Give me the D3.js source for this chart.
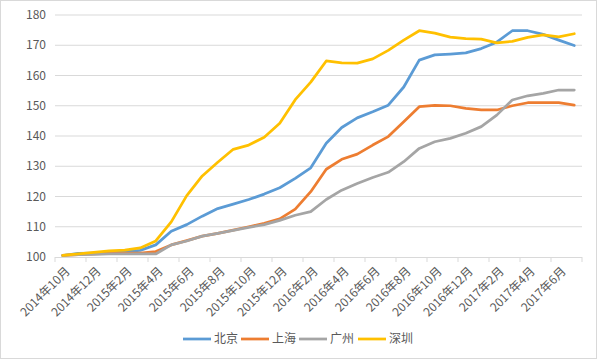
<!DOCTYPE html>
<html><head><meta charset="utf-8">
<script src="https://cdn.jsdelivr.net/npm/d3@7/dist/d3.min.js"></script>
<style>
body{margin:0;background:#fff;}
svg{display:block;font-family:"Noto Sans CJK SC","Noto Sans",sans-serif;}
</style></head><body>
<svg id="c" width="597" height="360"></svg>
<script>
// months 2014-10 .. 2017-07
const months = [];
for (let y = 2014, m = 10; !(y === 2017 && m === 8); ) {
  months.push(y + "年" + m + "月");
  m++; if (m > 12) { m = 1; y++; }
}
const yTicks = [100,110,120,130,140,150,160,170,180];
const seriesNames = ["北京","上海","广州","深圳"];
const colors = ["#5B9BD5","#ED7D31","#A5A5A5","#FFC000"];
const beijing  = [100.5,101.2,101.3,101.5,101.8,102.2,104.0,108.5,110.7,113.5,116.0,117.5,119.0,120.8,122.9,126.0,129.5,137.6,142.8,146.0,148.0,150.2,156.2,165.1,166.8,167.1,167.5,168.9,171.0,174.8,174.8,173.6,171.7,169.9];
const shanghai = [100.5,100.8,101.0,101.2,101.3,101.3,101.8,104.0,105.4,106.9,107.8,108.9,110.0,111.1,112.6,115.8,121.6,129.0,132.3,134.0,137.0,139.8,144.7,149.7,150.1,150.0,149.1,148.6,148.6,150.0,151.0,151.0,151.0,150.2];
const guangzhou= [100.5,100.8,100.9,101.0,101.0,101.0,101.0,104.0,105.3,106.9,107.8,108.8,109.8,110.7,112.1,113.8,115.0,119.0,122.1,124.3,126.3,128.0,131.5,135.9,138.1,139.2,140.9,143.1,146.9,151.9,153.3,154.1,155.2,155.2];
const shenzhen = [100.5,101.0,101.5,102.0,102.3,103.0,105.3,111.6,120.3,126.8,131.3,135.6,137.0,139.6,144.2,152.0,157.8,164.8,164.2,164.1,165.5,168.3,171.7,174.8,174.0,172.7,172.2,172.0,170.8,171.3,172.6,173.4,172.8,173.8];
const seriesData = [beijing, shanghai, guangzhou, shenzhen];

const svg = d3.select("#c");
svg.append("rect").attr("x",0.5).attr("y",0.5).attr("width",596).attr("height",358)
  .attr("fill","#fff").attr("stroke","#d9d9d9");

const L = 55, R = 582, T = 15, B = 257;
const x = d3.scaleBand().domain(months).range([L, R]);
const y = d3.scaleLinear().domain([100,180]).range([B, T]);
const cx = d => x(d) + x.bandwidth()/2;

// gridlines
svg.append("g").selectAll("line").data(yTicks.filter(v => v > 100)).join("line")
  .attr("x1",L).attr("x2",R).attr("y1",d=>y(d)).attr("y2",d=>y(d))
  .attr("stroke","#d9d9d9").attr("stroke-width",1);

// y labels
svg.append("g").selectAll("text").data(yTicks).join("text")
  .attr("x",46).attr("y",d=>y(d)).attr("dy","0.35em").attr("text-anchor","end")
  .attr("font-size",12).attr("fill","#595959").text(d=>d);

// x axis line and ticks
svg.append("line").attr("x1",L).attr("x2",R).attr("y1",B+0.5).attr("y2",B+0.5)
  .attr("stroke","#d9d9d9");
const tickIdx = d3.range(0, months.length + 1, 2);
svg.append("g").selectAll("line").data(tickIdx).join("line")
  .attr("x1",i => L + i*x.step()).attr("x2",i => L + i*x.step())
  .attr("y1",B).attr("y2",B+5).attr("stroke","#d9d9d9");

// x labels
svg.append("g").selectAll("text").data(months.filter((d,i)=>i%2===0)).join("text")
  .attr("transform",d=>`translate(${cx(d)+5},${B+12}) rotate(-45)`)
  .attr("text-anchor","end").attr("dy","0.35em")
  .attr("font-size",12).attr("fill","#595959").text(d=>d);

// lines
const line = d3.line().x((d,i)=>cx(months[i])).y(d=>y(d));
svg.append("g").selectAll("path").data(seriesData).join("path")
  .attr("d",line).attr("fill","none")
  .attr("stroke",(d,i)=>colors[i]).attr("stroke-width",2.75)
  .attr("stroke-linejoin","round").attr("stroke-linecap","round");

// legend
const legX = [183, 241, 299, 358];
const leg = svg.append("g").selectAll("g").data(seriesNames).join("g")
  .attr("transform",(d,i)=>`translate(${legX[i]},339)`);
leg.append("line").attr("x1",0).attr("x2",28).attr("stroke",(d,i)=>colors[i]).attr("stroke-width",2.75);
leg.append("text").attr("x",31).attr("dy","0.35em").attr("font-size",12).attr("fill","#595959").text(d=>d);
</script>
</body></html>
